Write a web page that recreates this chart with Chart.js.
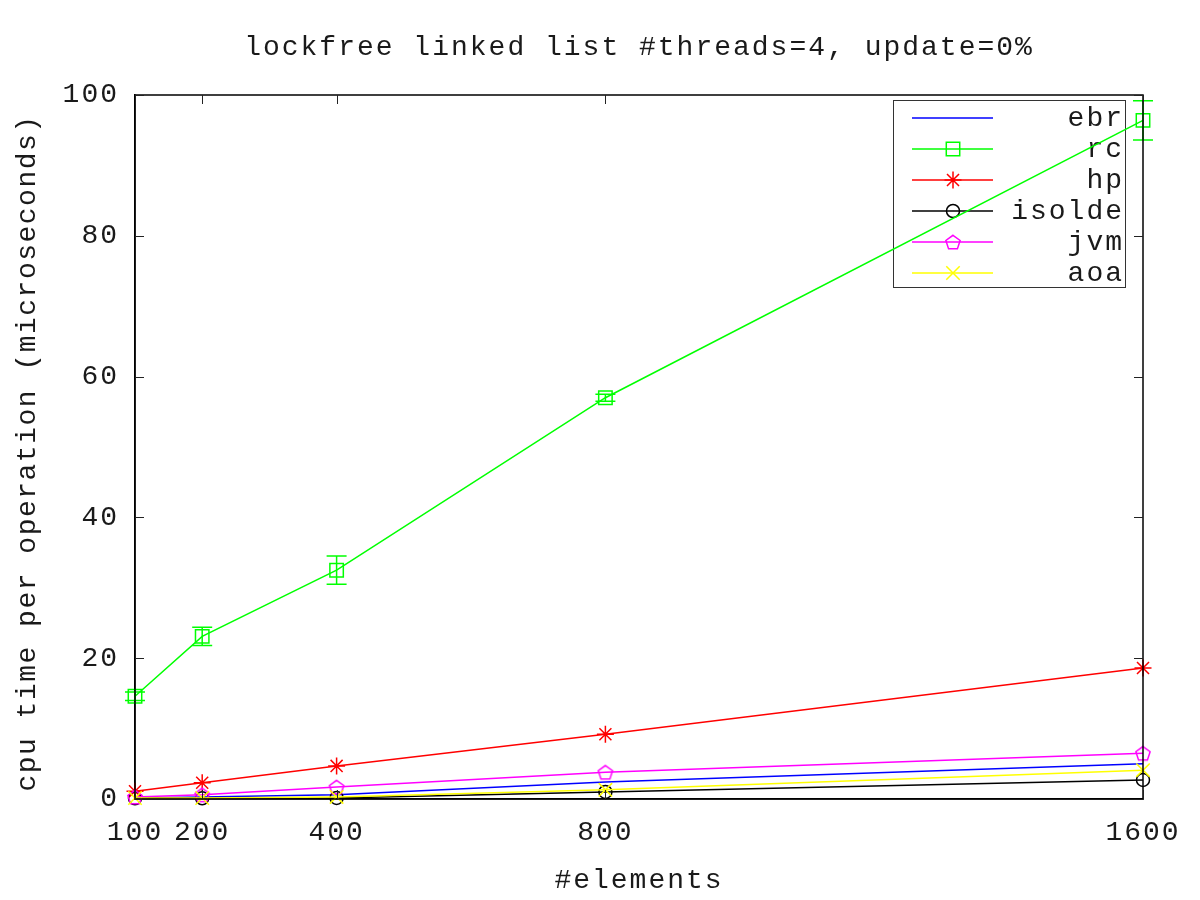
<!DOCTYPE html>
<html><head><meta charset="utf-8">
<script src="https://cdn.jsdelivr.net/npm/chart.js@4.4.1/dist/chart.umd.min.js"></script>
<style>html,body{margin:0;padding:0;background:#fff}#wrap{width:1200px;height:900px}</style>
</head><body><div id="wrap"><canvas id="c" width="1200" height="900"></canvas></div>
<script>
const elements = [100, 200, 400, 800, 1600];
const seriesNames = ['ebr', 'rc', 'hp', 'isolde', 'jvm', 'aoa'];
const ebr    = [0.15, 0.3, 0.6, 2.4, 5.0];
const rc     = [14.6, 23.1, 32.5, 57.0, 96.4];
const rcErr  = [0.6, 1.3, 2.0, 0.5, 2.8];
const hp     = [1.1, 2.3, 4.7, 9.2, 18.6];
const isolde = [0.1, 0.1, 0.15, 1.0, 2.7];
const jvm    = [0.3, 0.6, 1.7, 3.8, 6.5];
const aoa    = [0.15, 0.15, 0.3, 1.3, 4.1];
const yTicks = [0, 20, 40, 60, 80, 100];
const titleText = 'lockfree linked list #threads=4, update=0%';
const xTitle = '#elements';
const yTitle = 'cpu time per operation (microseconds)';

const FONT = '"Liberation Mono", "DejaVu Sans Mono", monospace';
const FSIZE = 28;
const LS = '2px';
const TXT = '#1a1a1a';

function pentagon(color) {
  const c = document.createElement('canvas');
  c.width = c.height = 20;
  const g = c.getContext('2d');
  g.strokeStyle = color; g.lineWidth = 1.5;
  g.beginPath();
  for (let i = 0; i < 5; i++) {
    const a = -Math.PI / 2 + i * 2 * Math.PI / 5;
    const px = 10 + 7.5 * Math.cos(a), py = 10.8 + 7.5 * Math.sin(a);
    i ? g.lineTo(px, py) : g.moveTo(px, py);
  }
  g.closePath(); g.stroke();
  return c;
}
const pentImg = pentagon('#ff00ff');

const styles = [
  {color: '#0000ff', point: false, r: 0},
  {color: '#00ff00', point: 'rect', r: 9.5},
  {color: '#ff0000', point: 'star', r: 8.5},
  {color: '#000000', point: 'circle', r: 6.5},
  {color: '#ff00ff', point: pentImg, r: 8},
  {color: '#ffff00', point: 'crossRot', r: 9.5}
];
const values = [ebr, rc, hp, isolde, jvm, aoa];

function drawMarker(ctx, st, x, y) {
  ctx.save();
  ctx.strokeStyle = st.color; ctx.lineWidth = 1.5;
  const r = st.r;
  ctx.beginPath();
  if (st.point === 'rect') {
    const s = Math.SQRT1_2 * r; ctx.rect(x - s, y - s, 2 * s, 2 * s); ctx.stroke();
  } else if (st.point === 'star') {
    ctx.moveTo(x - r, y); ctx.lineTo(x + r, y); ctx.moveTo(x, y - r); ctx.lineTo(x, y + r);
    const o = r * Math.SQRT1_2;
    ctx.moveTo(x - o, y - o); ctx.lineTo(x + o, y + o); ctx.moveTo(x - o, y + o); ctx.lineTo(x + o, y - o);
    ctx.stroke();
  } else if (st.point === 'circle') {
    ctx.arc(x, y, r, 0, Math.PI * 2); ctx.stroke();
  } else if (st.point === 'crossRot') {
    const o = r * Math.SQRT1_2;
    ctx.moveTo(x - o, y - o); ctx.lineTo(x + o, y + o); ctx.moveTo(x - o, y + o); ctx.lineTo(x + o, y - o);
    ctx.stroke();
  } else if (st.point && st.point.getContext) {
    ctx.drawImage(st.point, x - st.point.width / 2, y - st.point.height / 2);
  }
  ctx.restore();
}

const datasets = seriesNames.map((name, i) => ({
  label: name,
  data: elements.map((x, j) => ({x: x, y: values[i][j]})),
  borderColor: styles[i].color,
  backgroundColor: 'rgba(0,0,0,0)',
  borderWidth: 1.5,
  pointStyle: styles[i].point,
  pointRadius: styles[i].r,
  pointBorderWidth: 1.5,
  pointBorderColor: styles[i].color,
  pointBackgroundColor: 'rgba(0,0,0,0)',
  tension: 0,
  order: 5 - i,
  clip: false
}));

const lsPlugin = {
  id: 'ls',
  beforeUpdate(chart) { chart.ctx.letterSpacing = LS; },
  beforeLayout(chart) { chart.ctx.letterSpacing = LS; },
  beforeDraw(chart) { chart.ctx.letterSpacing = LS; }
};

const framePlugin = {
  id: 'frame',
  beforeDatasetsDraw(chart) {
    const ctx = chart.ctx;
    ctx.save();
    ctx.letterSpacing = LS;
    ctx.strokeStyle = '#333'; ctx.lineWidth = 1;
    ctx.strokeRect(893.5, 100.5, 232, 187);
    ctx.font = FSIZE + 'px ' + FONT;
    ctx.fillStyle = TXT; ctx.textAlign = 'right'; ctx.textBaseline = 'middle';
    seriesNames.forEach((name, i) => {
      const y = 118 + i * 31;
      ctx.strokeStyle = styles[i].color; ctx.lineWidth = 1.5;
      ctx.beginPath(); ctx.moveTo(912, y); ctx.lineTo(993, y); ctx.stroke();
      drawMarker(ctx, styles[i], 953, y);
      ctx.fillText(name, 1124, y + 1);
    });
    ctx.restore();
  },
  afterDatasetsDraw(chart) {
    const ctx = chart.ctx, xs = chart.scales.x, ys = chart.scales.y;
    ctx.save();
    ctx.strokeStyle = '#00ff00'; ctx.lineWidth = 1.5;
    elements.forEach((xv, j) => {
      const x = xs.getPixelForValue(xv);
      const y1 = ys.getPixelForValue(rc[j] - rcErr[j]);
      const y2 = ys.getPixelForValue(rc[j] + rcErr[j]);
      ctx.beginPath();
      ctx.moveTo(x, y1); ctx.lineTo(x, y2);
      ctx.moveTo(x - 10, y1); ctx.lineTo(x + 10, y1);
      ctx.moveTo(x - 10, y2); ctx.lineTo(x + 10, y2);
      ctx.stroke();
    });
    ctx.restore();
  },
  afterDraw(chart) {
    const ctx = chart.ctx, a = chart.chartArea, xs = chart.scales.x, ys = chart.scales.y;
    ctx.save();
    ctx.strokeStyle = '#000'; ctx.lineWidth = 1.5;
    ctx.strokeRect(a.left, a.top, a.right - a.left, a.bottom - a.top);
    ctx.lineWidth = 1; ctx.strokeStyle = '#222';
    const T = 9;
    ctx.beginPath();
    elements.forEach(v => {
      const x = Math.round(xs.getPixelForValue(v)) + 0.5;
      ctx.moveTo(x, a.bottom); ctx.lineTo(x, a.bottom - T);
      ctx.moveTo(x, a.top); ctx.lineTo(x, a.top + T);
    });
    yTicks.forEach(v => {
      const y = Math.round(ys.getPixelForValue(v)) + 0.5;
      ctx.moveTo(a.left, y); ctx.lineTo(a.left + T, y);
      ctx.moveTo(a.right, y); ctx.lineTo(a.right - T, y);
    });
    ctx.stroke();
    ctx.letterSpacing = LS;
    ctx.fillStyle = TXT;
    ctx.font = FSIZE + 'px ' + FONT;
    ctx.textAlign = 'center'; ctx.textBaseline = 'middle';
    ctx.fillText(titleText, (a.left + a.right) / 2, 48);
    ctx.fillText(xTitle, (a.left + a.right) / 2, 881);
    ctx.letterSpacing = '1.5px';
    ctx.translate(28, (a.top + a.bottom) / 2 + 6);
    ctx.rotate(-Math.PI / 2);
    ctx.fillText(yTitle, 0, 0);
    ctx.restore();
  }
};

new Chart(document.getElementById('c'), {
  type: 'line',
  data: {datasets},
  options: {
    responsive: false,
    animation: false,
    devicePixelRatio: 1,
    layout: {padding: {top: 95, right: 57, left: 0, bottom: 0}},
    plugins: {legend: {display: false}, title: {display: false}, tooltip: {enabled: false}},
    scales: {
      x: {
        type: 'linear', min: 100, max: 1600,
        afterBuildTicks(s) { s.ticks = elements.map(v => ({value: v})); },
        afterFit(s) { s.height = 101; },
        grid: {display: false, drawTicks: false},
        border: {display: true, color: '#000', width: 1.5},
        ticks: {autoSkip: false, maxRotation: 0, padding: 17, color: TXT,
                font: {family: FONT, size: FSIZE}, callback: v => String(v)}
      },
      y: {
        min: 0, max: 100,
        afterBuildTicks(s) { s.ticks = yTicks.map(v => ({value: v})); },
        afterFit(s) { s.width = 135; },
        grid: {display: false, drawTicks: false},
        border: {display: true, color: '#000', width: 1.5},
        ticks: {padding: 16, color: TXT, font: {family: FONT, size: FSIZE}}
      }
    }
  },
  plugins: [lsPlugin, framePlugin]
});
</script>
</body></html>
